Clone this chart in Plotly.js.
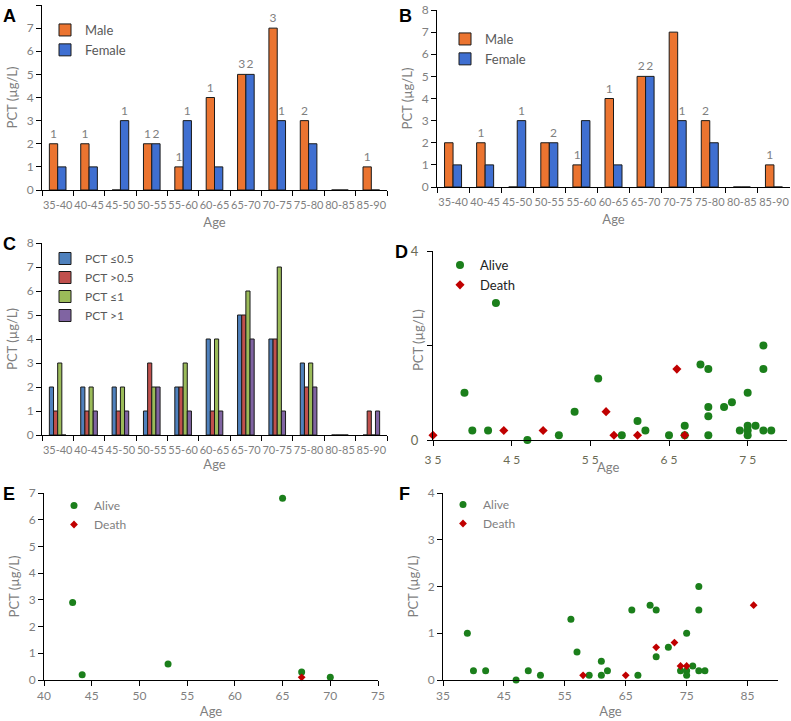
<!DOCTYPE html>
<html>
<head>
<meta charset="utf-8">
<script src="https://cdn.plot.ly/plotly-3.0.1.min.js"></script>
<style>
body { margin: 0; background: #fff; }
#fig { width: 791px; height: 721px; }
</style>
</head>
<body>
<div id="fig"></div>
<script>
// age groups shared by panels A, B, C
var ageGroups = ['35-40', '40-45', '45-50', '50-55', '55-60', '60-65', '65-70', '70-75', '75-80', '80-85', '85-90'];
var maleCount = [2, 2, 0, 2, 1, 4, 5, 7, 3, 0, 1];
var femaleCount = [1, 1, 3, 2, 3, 1, 5, 3, 2, 0, 0];
var maleLabelsA = ['1', '1', '', '1', '1', '1', '3', '3', '2', '', '1'];
var femaleLabelsA = ['', '', '1', '2', '1', '', '2', '1', '', '', ''];
var maleLabelsB = ['', '1', '', '', '1', '1', '2', '', '2', '', '1'];
var femaleLabelsB = ['', '', '1', '2', '', '', '2', '1', '', '', ''];

// panel C
var pctLow05 = [2, 2, 2, 1, 2, 4, 5, 4, 3, 0, 0];
var pctHigh05 = [1, 1, 1, 3, 2, 1, 5, 4, 2, 0, 1];
var pctLow1 = [3, 2, 2, 2, 3, 4, 6, 7, 3, 0, 0];
var pctHigh1 = [0, 1, 1, 2, 1, 1, 4, 1, 2, 0, 1];

// panel D
var aliveAgeD = [39, 40, 42, 43, 47, 51, 53, 56, 59, 61, 62, 65, 67, 67, 69, 70, 70, 70, 70, 72, 73, 74, 75, 75, 75, 75, 76, 77, 77, 77, 78];
var alivePctD = [1.0, 0.2, 0.2, 2.9, 0, 0.1, 0.6, 1.3, 0.1, 0.4, 0.2, 0.1, 0.3, 0.1, 1.6, 1.5, 0.7, 0.5, 0.1, 0.7, 0.8, 0.2, 1.0, 0.3, 0.2, 0.1, 0.3, 2.0, 1.5, 0.2, 0.2];
var deathAgeD = [35, 44, 49, 57, 58, 61, 66, 67];
var deathPctD = [0.1, 0.2, 0.2, 0.6, 0.1, 0.1, 1.5, 0.1];

// panel E
var aliveAgeE = [43, 44, 53, 65, 67, 70];
var alivePctE = [2.9, 0.2, 0.6, 6.8, 0.3, 0.1];
var deathAgeE = [67];
var deathPctE = [0.1];

// panel F
var aliveAgeF = [39, 40, 42, 47, 49, 51, 56, 57, 59, 61, 61, 62, 66, 67, 69, 70, 70, 72, 74, 75, 75, 75, 76, 77, 77, 77, 78];
var alivePctF = [1.0, 0.2, 0.2, 0, 0.2, 0.1, 1.3, 0.6, 0.1, 0.4, 0.1, 0.2, 1.5, 0.1, 1.6, 1.5, 0.5, 0.7, 0.2, 1.0, 0.2, 0.1, 0.3, 2.0, 1.5, 0.2, 0.2];
var deathAgeF = [58, 65, 70, 73, 74, 75, 86];
var deathPctF = [0.1, 0.1, 0.7, 0.8, 0.3, 0.3, 1.6];

var W = 791, H = 721;
var FONT = 'Lato, "Open Sans", sans-serif';
var GREY = '#7f7f7f';
var ORANGE = '#EB7430', BLUE = '#3F6FD1';
var ALIVE = '#1B7F1B', DEATH = '#C00000';

function px(x) { return x / W; }
function py(y) { return 1 - y / H; }

function barTrace(name, y, color, xa, ya, leg, labels) {
    let t = {
        type: 'bar', name: name, x: ageGroups, y: y,
        xaxis: xa, yaxis: ya, legend: leg,
        marker: {color: color, line: {color: '#1a1a1a', width: 1}},
        cliponaxis: false
    };
    if (labels) {
        t.text = labels;
        t.textposition = 'outside';
        t.constraintext = 'none';
        t.textfont = {family: FONT, size: 12, color: GREY};
    }
    return t;
}

function dotTrace(name, x, y, xa, ya, leg, isDeath, size) {
    return {
        type: 'scatter', mode: 'markers', name: name, x: x, y: y,
        xaxis: xa, yaxis: ya, legend: leg, cliponaxis: false,
        marker: {
            color: isDeath ? DEATH : ALIVE,
            symbol: isDeath ? 'diamond' : 'circle',
            size: size
        }
    };
}

var data = [
    barTrace('Male', maleCount, ORANGE, 'x', 'y', 'legend', maleLabelsA),
    barTrace('Female', femaleCount, BLUE, 'x', 'y', 'legend', femaleLabelsA),
    barTrace('Male', maleCount, ORANGE, 'x2', 'y2', 'legend2', maleLabelsB),
    barTrace('Female', femaleCount, BLUE, 'x2', 'y2', 'legend2', femaleLabelsB),
    barTrace('PCT \u22640.5', pctLow05, '#4F81BD', 'x3', 'y3', 'legend3'),
    barTrace('PCT >0.5', pctHigh05, '#C0504D', 'x3', 'y3', 'legend3'),
    barTrace('PCT \u22641', pctLow1, '#9BBB59', 'x3', 'y3', 'legend3'),
    barTrace('PCT >1', pctHigh1, '#8064A2', 'x3', 'y3', 'legend3'),
    dotTrace('Alive', aliveAgeD, alivePctD, 'x4', 'y4', 'legend4', false, 8),
    dotTrace('Death', deathAgeD, deathPctD, 'x4', 'y4', 'legend4', true, 7),
    dotTrace('Alive', aliveAgeE, alivePctE, 'x5', 'y5', 'legend5', false, 7),
    dotTrace('Death', deathAgeE, deathPctE, 'x5', 'y5', 'legend5', true, 6),
    dotTrace('Alive', aliveAgeF, alivePctF, 'x6', 'y6', 'legend6', false, 7),
    dotTrace('Death', deathAgeF, deathPctF, 'x6', 'y6', 'legend6', true, 6)
];

function axis(extra) {
    let a = {
        showline: true, linecolor: '#000', linewidth: 1,
        showgrid: false, zeroline: false,
        ticks: 'outside', ticklen: 5, tickcolor: '#000',
        tickfont: {family: FONT, size: 12, color: GREY},
        fixedrange: true
    };
    return Object.assign(a, extra);
}

function catAxis(extra) {
    return axis(Object.assign({
        type: 'category', tickson: 'boundaries', tickangle: 0, ticklabelstandoff: 5,
        tickfont: {family: FONT, size: 11, color: GREY},
        title: ageTitle(7)
    }, extra));
}

function ageTitle(standoff) {
    return {text: 'Age', font: {family: FONT, size: 13, color: GREY}, standoff: standoff};
}
function pctTitle() {
    return {text: 'PCT (\u00b5g/L)', font: {family: FONT, size: 13, color: GREY}, standoff: 6};
}

function legendAt(x, y, size, color) {
    return {
        x: px(x), y: py(y), xanchor: 'left', yanchor: 'top',
        bgcolor: 'rgba(0,0,0,0)', itemwidth: 30,
        font: {family: FONT, size: size, color: color}
    };
}

function letter(txt, x, y) {
    return {
        text: '<b>' + txt + '</b>', xref: 'paper', yref: 'paper',
        x: px(x), y: py(y), xanchor: 'center', yanchor: 'middle', showarrow: false,
        font: {family: '"Liberation Sans", Arial, sans-serif', size: 18, color: '#000'}
    };
}

var layout = {
    width: W, height: H,
    margin: {l: 0, r: 0, t: 0, b: 0},
    paper_bgcolor: '#fff', plot_bgcolor: '#fff',
    font: {family: FONT, color: GREY},
    barmode: 'group',
    bargap: 0.47,
    showlegend: true,

    xaxis: catAxis({domain: [px(42), px(387)], anchor: 'y'}),
    yaxis: axis({domain: [py(190), py(5)], anchor: 'x', range: [0, 8], dtick: 1, title: pctTitle()}),

    xaxis2: catAxis({domain: [px(437), px(790)], anchor: 'y2'}),
    yaxis2: axis({domain: [py(187), py(10)], anchor: 'x2', range: [0, 8], dtick: 1, title: pctTitle()}),

    xaxis3: catAxis({domain: [px(42), px(387)], anchor: 'y3', title: ageTitle(3)}),
    yaxis3: axis({domain: [py(435), py(243)], anchor: 'x3', range: [0, 8], dtick: 1, title: pctTitle()}),

    xaxis4: axis({domain: [px(433), px(787)], anchor: 'y4', range: [35, 80], tickvals: [35, 45, 55, 65, 75],
        ticktext: ['3 5', '4 5', '5 5', '6 5', '7 5'], ticklabelstandoff: 4,
        tickfont: {family: FONT, size: 12, color: '#6b6b55'}}),
    yaxis4: axis({domain: [py(440), py(251)], anchor: 'x4', range: [0, 4], tickvals: [0, 2, 4], ticktext: ['0', '', '4'],
        ticklabelstandoff: 6, tickfont: {family: FONT, size: 13, color: '#6b6b55'}}),

    xaxis5: axis({domain: [px(44), px(378)], anchor: 'y5', range: [40, 75], dtick: 5, title: ageTitle(4)}),
    yaxis5: axis({domain: [py(680), py(493)], anchor: 'x5', range: [0, 7], dtick: 1, title: pctTitle()}),

    xaxis6: axis({domain: [px(443), px(778)], anchor: 'y6', range: [35, 90], tickvals: [35, 45, 55, 65, 75, 85], title: ageTitle(4)}),
    yaxis6: axis({domain: [py(680), py(493)], anchor: 'x6', range: [0, 4], dtick: 1, title: pctTitle()}),

    legend: legendAt(45, 15, 13, '#595959'),
    legend2: legendAt(445, 24, 13, '#595959'),
    legend3: legendAt(45, 244, 12, '#595959'),
    legend4: legendAt(440, 250, 13, '#222'),
    legend5: legendAt(54, 491, 12, GREY),
    legend6: legendAt(443, 490, 12, GREY),

    annotations: [
        letter('A', 9, 16), letter('B', 405, 16), letter('C', 9, 244),
        letter('D', 401, 252), letter('E', 9, 494), letter('F', 404, 494),
        {text: 'Age', xref: 'paper', yref: 'paper', x: px(608), y: py(467), showarrow: false,
            xanchor: 'center', yanchor: 'middle', font: {family: FONT, size: 13, color: GREY}},
        {text: 'PCT (\u00b5g/L)', xref: 'paper', yref: 'paper', x: px(418), y: py(340), showarrow: false,
            textangle: -90, xanchor: 'center', yanchor: 'middle', font: {family: FONT, size: 13, color: GREY}}
    ]
};

Plotly.newPlot('fig', data, layout, {displayModeBar: false, staticPlot: true});
</script>
</body>
</html>
